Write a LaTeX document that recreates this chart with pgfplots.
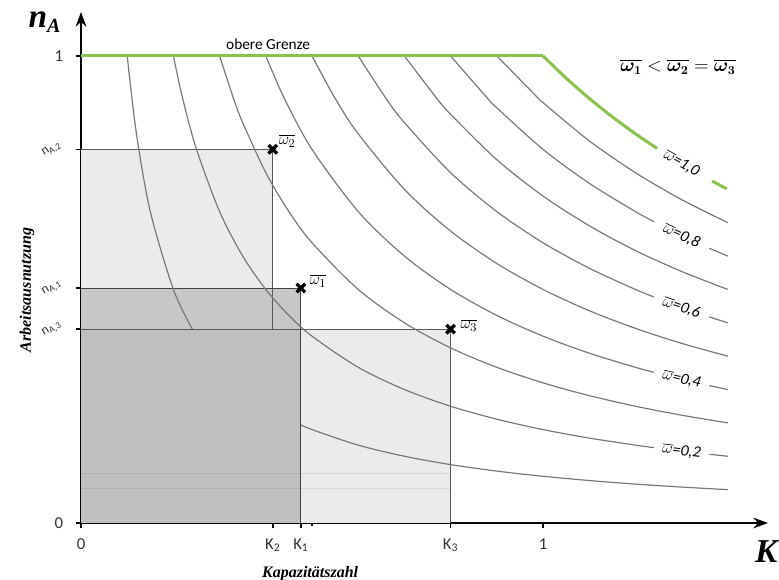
\documentclass[border=0pt]{standalone}
\usepackage{amsmath}
\usepackage{fontspec}
\setmainfont{Carlito}
\newfontfamily\serifbi{Liberation Serif}
\usepackage{graphicx}
\usepackage{pgfplots}
\pgfplotsset{compat=1.18}
\usetikzlibrary{arrows.meta}
\definecolor{gruen}{HTML}{8DC152}
\definecolor{kurve}{HTML}{7A7A7A}
\begin{document}
\begin{tikzpicture}
\begin{axis}[name=ax,
  scale only axis, width=515.25pt, height=383.25pt,
  xmin=0, xmax=1.487, ymin=0, ymax=1.094,
  axis lines=left, clip=false,
  axis line style={line width=1.6pt, -{Stealth[length=11pt,width=8pt]}},
  xtick={0,0.415,0.476,0.8,1},
  xticklabels={0,K\textsubscript{2},K\textsubscript{1},K\textsubscript{3},1},
  ytick={0,0.415,0.503,0.8,1},
  yticklabels={0,\rotatebox{30}{\fontsize{10}{12}\selectfont n\textsubscript{A,3}},\rotatebox{30}{\fontsize{10}{12}\selectfont n\textsubscript{A,1}},\rotatebox{30}{\fontsize{10}{12}\selectfont n\textsubscript{A,2}},1},
  tick align=outside, major tick length=4pt,
  tick style={black, line width=1.2pt},
  ticklabel style={font=\fontsize{12.5}{14}\selectfont, text=black!80},
  xticklabel style={yshift=-4pt},
  yticklabel style={xshift=-6pt},
  extra x ticks={0.5}, extra x tick labels={}, extra x tick style={major tick length=2pt},
]
% light rectangles
\addplot[fill=black!8, draw=none] coordinates {(0,0) (0.415,0) (0.415,0.8) (0,0.8)} --cycle;
\addplot[fill=black!8, draw=none] coordinates {(0,0) (0.8,0) (0.8,0.415) (0,0.415)} --cycle;
% dark rectangle
\addplot[fill=black!22, draw=none] coordinates {(0,0) (0.476,0) (0.476,0.503) (0,0.503)} --cycle;
\addplot[fill=black!25, draw=none] coordinates {(0,0) (0.476,0) (0.476,0.415) (0,0.415)} --cycle;
% faint scan lines
\addplot[black, opacity=0.07, line width=0.8pt] coordinates {(0,0.105) (0.8,0.105)};
\addplot[black, opacity=0.07, line width=0.8pt] coordinates {(0,0.073) (0.8,0.073)};
% rectangle borders
\addplot[gray!70!black, line width=0.6pt] coordinates {(0,0.8) (0.415,0.8) (0.415,0.415)};
\addplot[black!75, line width=0.7pt] coordinates {(0,0.503) (0.476,0.503) (0.476,0)};
\addplot[gray!70!black, line width=0.6pt] coordinates {(0,0.415) (0.8,0.415) (0.8,0)};
% iso-curves
\pgfplotsset{iso/.style={kurve, line width=0.9pt, smooth}}
\addplot[iso] coordinates {(0.1,1) (0.12,0.8333) (0.15,0.6667) (0.2,0.5) (0.241,0.415)};
\addplot[iso] coordinates {(0.476,0.210) (0.5,0.2) (0.6,0.1667) (0.7,0.1429) (0.8,0.125) (0.9,0.1111) (1.0,0.1) (1.1,0.0909) (1.2,0.0833) (1.3,0.0769) (1.4,0.0714)};
\addplot[iso] coordinates {(0.2,1) (0.22,0.9091) (0.25,0.8) (0.3,0.6667) (0.35,0.5714) (0.4,0.5) (0.45,0.4444) (0.5,0.4) (0.6,0.3333) (0.7,0.2857) (0.8,0.25) (0.9,0.2222) (1.0,0.2) (1.1,0.1818) (1.2,0.1667) (1.24,0.1613)};
\addplot[iso] coordinates {(1.36,0.1471) (1.4,0.1429)};
\addplot[iso] coordinates {(0.3,1) (0.33,0.9091) (0.35,0.8571) (0.4,0.75) (0.45,0.6667) (0.5,0.6) (0.6,0.5) (0.7,0.4286) (0.8,0.375) (0.9,0.3333) (1.0,0.3) (1.1,0.2727) (1.2,0.25) (1.3,0.2308) (1.4,0.2143)};
\addplot[iso] coordinates {(0.4,1) (0.44,0.9091) (0.5,0.8) (0.6,0.6667) (0.7,0.5714) (0.8,0.5) (0.9,0.4444) (1.0,0.4) (1.1,0.3636) (1.2,0.3333) (1.24,0.3226)};
\addplot[iso] coordinates {(1.36,0.2941) (1.4,0.2857)};
\addplot[iso] coordinates {(0.5,1) (0.55,0.9091) (0.6,0.8333) (0.7,0.7143) (0.8,0.625) (0.9,0.5556) (1.0,0.5) (1.1,0.4545) (1.2,0.4167) (1.3,0.3846) (1.4,0.3571)};
\addplot[iso] coordinates {(0.6,1) (0.66,0.9091) (0.7,0.8571) (0.8,0.75) (0.9,0.6667) (1.0,0.6) (1.1,0.5455) (1.2,0.5) (1.24,0.4839)};
\addplot[iso] coordinates {(1.36,0.4412) (1.4,0.4286)};
\addplot[iso] coordinates {(0.7,1) (0.77,0.9091) (0.8,0.875) (0.9,0.7778) (1.0,0.7) (1.1,0.6364) (1.2,0.5833) (1.3,0.5385) (1.4,0.5)};
\addplot[iso] coordinates {(0.8,1) (0.88,0.9091) (0.9,0.8889) (1.0,0.8) (1.1,0.7273) (1.2,0.6667) (1.24,0.6452)};
\addplot[iso] coordinates {(1.36,0.5882) (1.4,0.5714)};
\addplot[iso] coordinates {(0.9,1) (0.99,0.9091) (1.0,0.9) (1.1,0.8182) (1.2,0.75) (1.3,0.6923) (1.4,0.6429)};
% upper limit
\addplot[gruen, line width=2.3pt] coordinates {(0,1) (1,1)};
\addplot[gruen, line width=2.3pt, smooth] coordinates {(1.0,1) (1.05,0.9524) (1.1,0.9091) (1.15,0.8696) (1.2,0.8333) (1.247,0.8019)};
\addplot[gruen, line width=2.3pt] coordinates {(1.366,0.7321) (1.398,0.7153)};
% points
\addplot[only marks, mark=x, mark size=4.5pt, mark options={line width=2.5pt, black}] coordinates {(0.415,0.8) (0.476,0.503) (0.8,0.415)};
\node[anchor=south west, font=\fontsize{13}{15}\selectfont] at (axis cs:0.415,0.8) [xshift=1pt,yshift=-2pt] {$\overline{\omega_2}$};
\node[anchor=south west, font=\fontsize{13}{15}\selectfont] at (axis cs:0.476,0.503) [xshift=3pt,yshift=-3pt] {$\overline{\omega_1}$};
\node[anchor=west, font=\fontsize{13}{15}\selectfont] at (axis cs:0.8,0.415) [xshift=4pt,yshift=3pt] {$\overline{\omega_3}$};
% texts
\node[anchor=south, font=\fontsize{11.5}{13}\selectfont] at (axis cs:0.405,1) [yshift=1pt] {obere Grenze};
\node[font=\fontsize{13.5}{15}\selectfont] at (axis cs:1.292,0.976) {$\boldsymbol{\overline{\omega_1}} < \boldsymbol{\overline{\omega_2}} = \boldsymbol{\overline{\omega_3}}$};
\node[rotate=-30, inner sep=1pt, font=\itshape\fontsize{12}{14}\selectfont] at (axis cs:1.3,0.769) {$\overline{\omega}$=1,0};
\node[rotate=-25, inner sep=1pt, font=\itshape\fontsize{12}{14}\selectfont] at (axis cs:1.3,0.615) {$\overline{\omega}$=0,8};
\node[rotate=-19, inner sep=1pt, font=\itshape\fontsize{12}{14}\selectfont] at (axis cs:1.3,0.4615) {$\overline{\omega}$=0,6};
\node[rotate=-13, inner sep=1pt, font=\itshape\fontsize{12}{14}\selectfont] at (axis cs:1.3,0.3077) {$\overline{\omega}$=0,4};
\node[rotate=-7, inner sep=1pt, font=\itshape\fontsize{12}{14}\selectfont] at (axis cs:1.3,0.1538) {$\overline{\omega}$=0,2};
\node[font=\serifbi\bfseries\itshape\fontsize{25}{27}\selectfont] at (axis cs:-0.078,1.073) {n\textsubscript{\fontsize{15}{17}\selectfont A}};
\node[font=\serifbi\bfseries\itshape\fontsize{25}{27}\selectfont] at (axis cs:1.483,-0.062) {K};
\node[font=\serifbi\bfseries\itshape\fontsize{12}{14}\selectfont] at (axis cs:0.496,-0.108) {Kapazitätszahl};
\node[rotate=90, font=\serifbi\bfseries\itshape\fontsize{12}{14}\selectfont] at (axis cs:-0.117,0.499) {Arbeitsausnutzung};
\end{axis}
\pgfresetboundingbox
\path[use as bounding box] ([shift={(-60.75pt,-42.75pt)}]ax.south west) rectangle ++(584.25pt,435pt);
\end{tikzpicture}
\end{document}
